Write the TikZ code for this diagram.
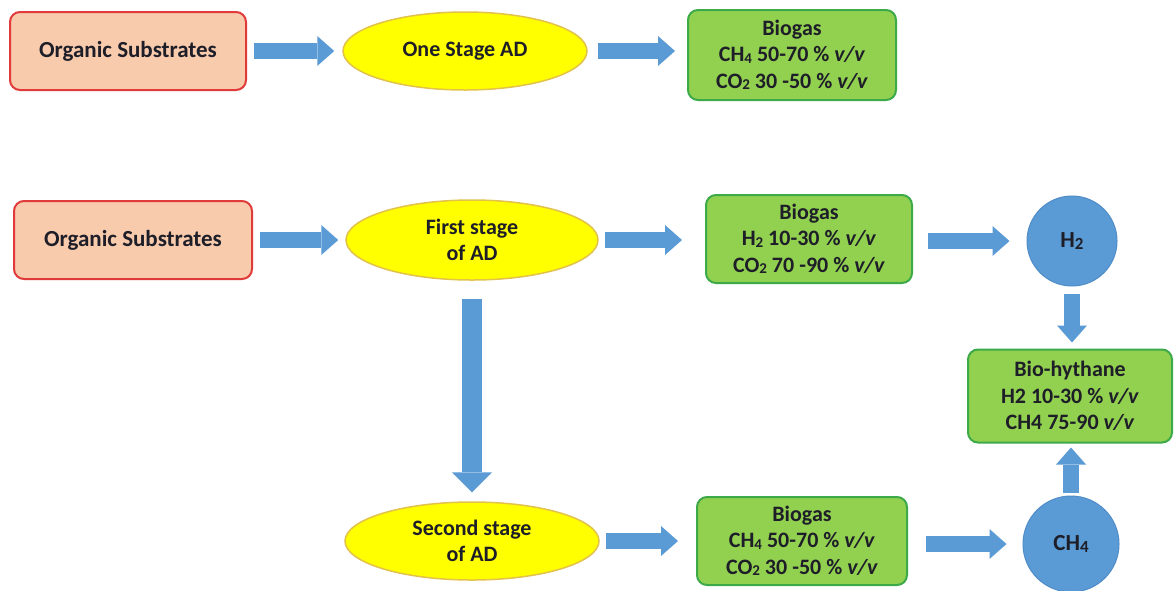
\documentclass[tikz,border=0pt]{standalone}
\usepackage{fontspec}
\setmainfont{Carlito}
\usetikzlibrary{shapes.geometric,arrows.meta}
\definecolor{arrowblue}{HTML}{5B9BD5}
\definecolor{peach}{HTML}{F8CBAD}
\definecolor{redb}{HTML}{E03A3A}
\definecolor{yel}{HTML}{FFFF00}
\definecolor{yelb}{HTML}{E2C24A}
\definecolor{grn}{HTML}{92D050}
\definecolor{grnb}{HTML}{3DAA4A}
\definecolor{circb}{HTML}{4F8CC8}
\definecolor{txt}{HTML}{1E1E28}
\newcommand{\lowsub}[1]{{\fontsize{15}{15}\selectfont\raisebox{-1.5pt}{#1}}}
\newcommand{\bigsub}[1]{{\fontsize{17}{17}\selectfont\raisebox{-1.5pt}{#1}}}
\begin{document}
\begin{tikzpicture}[x=1pt,y=-1pt,
  every node/.style={font=\fontsize{22}{26.5}\selectfont\bfseries, text=txt, align=center, inner sep=0pt},
  subbox/.style={rectangle, rounded corners=10pt, fill=peach, draw=redb, line width=2pt, minimum width=236pt, minimum height=78pt, font=\fontsize{23}{27}\selectfont\bfseries},
  stage/.style={ellipse, fill=yel, draw=yelb, line width=1.5pt},
  gasbox/.style={rectangle, rounded corners=10pt, fill=grn, draw=grnb, line width=2pt},
  gascirc/.style={circle, fill=arrowblue, draw=circb, line width=1pt, font=\fontsize{23}{25}\selectfont\bfseries},
  blk/.style={draw=arrowblue, line width=16pt, -{Triangle[width=30pt,length=17pt,line width=0pt]}},
  bigblk/.style={draw=arrowblue, line width=20pt, -{Triangle[width=40pt,length=20pt,line width=0pt]}},
]
\useasboundingbox (0,0) rectangle (1174,590);
\fill[white] (0,0) rectangle (1174,590);
\clip (0,0) rectangle (1174,590);

% row 1
\node[subbox] (os1) at (128,51) {Organic Substrates};
\node[stage, minimum width=244pt, minimum height=78pt] (ad1) at (465,51) {One Stage AD};
\node[gasbox, minimum width=208pt, minimum height=90pt] (bg1) at (792,55)
  {Biogas\\CH\lowsub{4} 50-70 \% \textit{v/v}\\CO\lowsub{2} 30 -50 \% \textit{v/v}};

% row 2
\node[subbox, minimum width=238pt] (os2) at (133,240) {Organic Substrates};
\node[stage, minimum width=252pt, minimum height=80pt] (ad2) at (472,240) {First stage\\of AD};
\node[gasbox, minimum width=206pt, minimum height=88pt] (bg2) at (809,239)
  {Biogas\\H\lowsub{2} 10-30 \% \textit{v/v}\\CO\lowsub{2} 70 -90 \% \textit{v/v}};
\node[gascirc, minimum size=90pt] (h2) at (1072,241) {H\bigsub{2}};
\node[gasbox, minimum width=204pt, minimum height=93pt] (bh) at (1070,396)
  {Bio-hythane\\H2 10-30 \% \textit{v/v}\\CH4 75-90 \textit{v/v}};

% row 3
\node[stage, minimum width=254pt, minimum height=78pt] (ad3) at (472,541) {Second stage\\of AD};
\node[gasbox, minimum width=210pt, minimum height=88pt] (bg3) at (802,541)
  {Biogas\\CH\lowsub{4} 50-70 \% \textit{v/v}\\CO\lowsub{2} 30 -50 \% \textit{v/v}};
\node[gascirc, minimum size=96pt] (ch4) at (1071,544) {CH\bigsub{4}};

% arrows
\draw[blk, shorten <=7pt, shorten >=8pt] (os1.east) -- (ad1.west);
\draw[blk, shorten <=10pt, shorten >=12pt] (ad1.east) -- (bg1.west |- ad1.east);
\draw[blk, shorten <=7pt, shorten >=7pt] (os2.east) -- (ad2.west);
\draw[blk, shorten <=6pt, shorten >=23pt] (ad2.east) -- (bg2.west |- ad2.east);
\draw[blk, shorten <=15pt, shorten >=17pt] (bg2.east |- h2.west) -- (h2.west);
\draw[bigblk, shorten <=18pt, shorten >=9pt] (ad2.south) -- (ad3.north);
\draw[blk, shorten <=6pt, shorten >=18pt] (ad3.east) -- (bg3.west |- ad3.east);
\draw[blk, shorten <=18pt, shorten >=16pt] (bg3.east |- ch4.west) -- (ch4.west);
\draw[blk, shorten <=7pt, shorten >=6pt] (h2.south) -- (h2.south |- bh.north);
\draw[blk, shorten <=3pt, shorten >=4pt] (ch4.north) -- (ch4.north |- bh.south);
\end{tikzpicture}
\end{document}
